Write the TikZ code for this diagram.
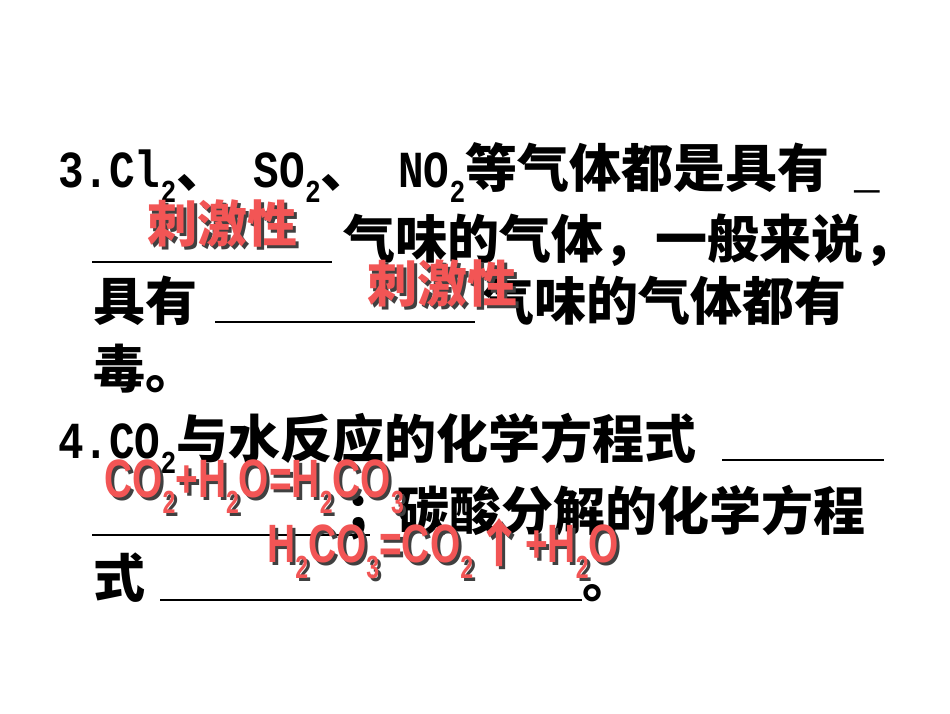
\documentclass[tikz,border=0pt]{standalone}
\usepackage{fontspec}
\setmainfont{Noto Sans CJK SC}
\newfontfamily\lat{Liberation Sans}[FakeStretch=0.72]
\newfontfamily\mono{Liberation Mono}[FakeStretch=0.82]
\newcommand{\dn}[1]{\raisebox{-0.3em}{\fontsize{32}{32}\selectfont #1}}
\newcommand{\lt}[1]{{\lat\bfseries\fontsize{54}{54}\selectfont #1}}
\newcommand{\mt}[1]{{\mono\bfseries #1}}
\begin{document}
\begin{tikzpicture}[x=1pt,y=-1pt,
  txt/.style={anchor=base west,inner sep=0pt,font=\fontsize{52}{52}\selectfont\bfseries},
  red/.style={txt,text=red!65!white!95!black},
  shd/.style={txt,text=black!75},
  ul/.style={line width=2.5pt}]
\useasboundingbox[fill=white] (0,0) rectangle (950,713);
% line 1
\node[txt] (l1) at (58,187) {\mt{3.Cl\dn{2}}、\mt{ SO\dn{2}}、\mt{ NO\dn{2}}等气体都是具有\mt{ \_}};
% line 2
\coordinate (u2a) at (92,262); \coordinate (u2b) at (332,262);
\draw[ul] (u2a) -- (u2b);
\node[txt] (l2) at (343,258) {气味的气体，一般来说，};
% line 3
\node[txt] (l3) at (93,320) {具有};
\coordinate (u3a) at (215,322); \coordinate (u3b) at (475,322);
\draw[ul] (u3a) -- (u3b);
\node[txt] (l3b) at (482,320) {气味的气体都有};
% line 4
\node[txt] (l4) at (93,388) {毒。};
% line 5
\node[txt] (l5) at (58,458) {\mt{4.CO\dn{2}}与水反应的化学方程式};
\coordinate (u5a) at (722,460); \coordinate (u5b) at (884,460);
\draw[ul] (u5a) -- (u5b);
% line 6
\coordinate (u6a) at (92,535); \coordinate (u6b) at (370,535);
\draw[ul] (u6a) -- (u6b);
\node[txt] (l6) at (345,530) {；碳酸分解的化学方程};
% line 7
\node[txt] (l7) at (93,597) {式};
\coordinate (u7a) at (160,600); \coordinate (u7b) at (582,600);
\draw[ul] (u7a) -- (u7b);
\node[txt] (l7b) at (582,597) {。};
% red answers
\node[shd,font=\fontsize{50}{50}\selectfont\bfseries] (r1s) at (150,245) {刺激性};
\node[red,font=\fontsize{50}{50}\selectfont\bfseries] (r1) at (147,242) {刺激性};
\node[shd,font=\fontsize{50}{50}\selectfont\bfseries] (r2s) at (370,305) {刺激性};
\node[red,font=\fontsize{50}{50}\selectfont\bfseries] (r2) at (367,302) {刺激性};
\node[shd] (f1s) at (107,500) {\lt{CO\dn{2}+H\dn{2}O=H\dn{2}CO\dn{3}}};
\node[red] (f1) at (104,497) {\lt{CO\dn{2}+H\dn{2}O=H\dn{2}CO\dn{3}}};
\node[shd] (f2s) at (270,565) {\lt{H\dn{2}CO\dn{3}=CO\dn{2}}↑\lt{+H\dn{2}O}};
\node[red] (f2) at (267,562) {\lt{H\dn{2}CO\dn{3}=CO\dn{2}}↑\lt{+H\dn{2}O}};
\end{tikzpicture}
\end{document}
